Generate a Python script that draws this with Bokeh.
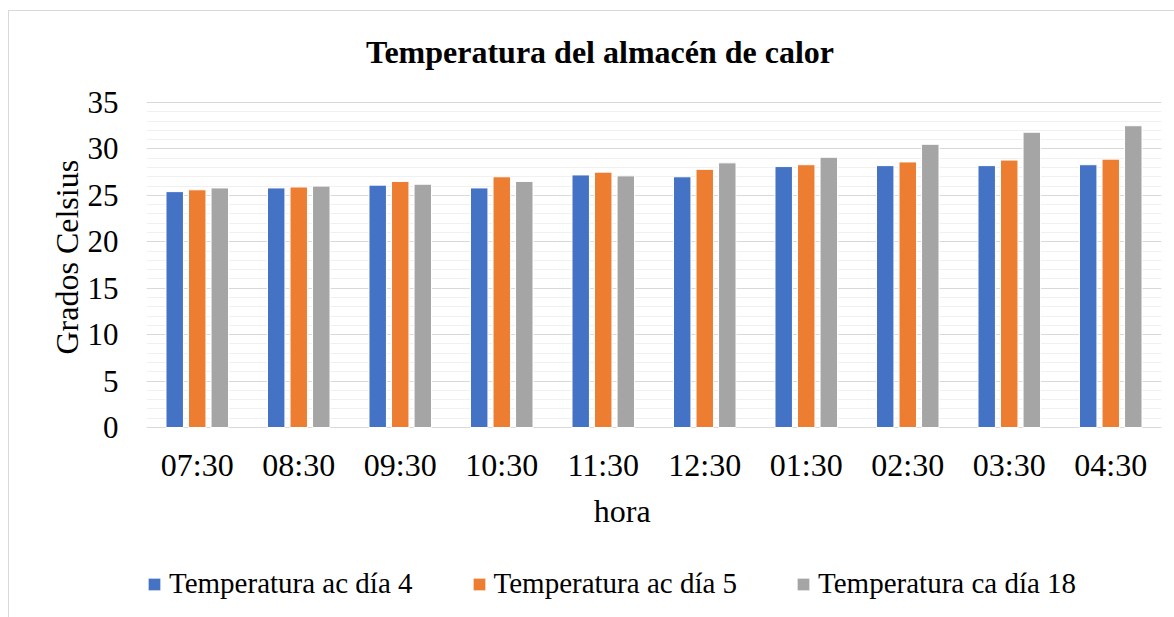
from bokeh.plotting import figure
from bokeh.models import (ColumnDataSource, FactorRange, Range1d, Legend, LegendItem, Title,
                          FixedTicker, Label, LabelSet, Grid)
from bokeh.core.properties import value
from bokeh.transform import dodge
from bokeh.embed import file_html
from bokeh.resources import INLINE

horas = ["07:30", "08:30", "09:30", "10:30", "11:30", "12:30", "01:30", "02:30", "03:30", "04:30"]
dia4 = [25.4, 25.8, 26.1, 25.8, 27.2, 27.0, 28.1, 28.2, 28.2, 28.3]
dia5 = [25.6, 25.9, 26.5, 27.0, 27.5, 27.8, 28.3, 28.6, 28.8, 28.9]
dia18 = [25.8, 26.0, 26.2, 26.5, 27.1, 28.5, 29.1, 30.5, 31.8, 32.5]
series_names = ["Temperatura ac día 4", "Temperatura ac día 5", "Temperatura ca día 18"]
y_ticks = [0, 5, 10, 15, 20, 25, 30, 35]
y_minor = list(range(0, 36))
colors = ["#4472C4", "#ED7D31", "#A5A5A5"]

FONT = "Liberation Serif"

src = ColumnDataSource(data=dict(hora=horas, d4=dia4, d5=dia5, d18=dia18))

# frame spans title..legend area; value axis 0..35 occupies the middle band
p = figure(frame_width=1015, frame_height=580, x_range=FactorRange(*horas, range_padding=0),
           y_range=Range1d(-18.63, 43.83), output_backend="svg", toolbar_location=None,
           x_axis_location=None,
           min_border_left=137, min_border_right=13, min_border_top=9, min_border_bottom=17)
p.margin = (10, 0, 0, 8)
p.styles = {"border-left": "1px solid #d9d9d9", "border-top": "1px solid #d9d9d9"}
p.outline_line_color = None
p.background_fill_color = "white"
p.border_fill_color = "white"

for g in p.select({"type": Grid}):
    if g.dimension == 0:
        g.visible = False
        g.grid_line_color = None

renderers = []
for col, off, c in zip(["d4", "d5", "d18"], [-0.222, 0.0, 0.222], colors):
    r = p.vbar(x=dodge("hora", off, range=p.x_range), top=col, width=0.172, source=src,
               fill_color=c, line_color="white", line_width=1)
    renderers.append(r)

# y axis
p.yaxis.ticker = FixedTicker(ticks=y_ticks, minor_ticks=y_minor)
p.yaxis.axis_line_color = None
p.yaxis.major_tick_line_color = None
p.yaxis.minor_tick_line_color = None
p.yaxis.major_tick_out = 0
p.yaxis.major_tick_in = 0
p.yaxis.minor_tick_out = 0
p.yaxis.minor_tick_in = 0
p.yaxis.major_label_standoff = 28
p.yaxis.major_label_text_font = FONT
p.yaxis.major_label_text_font_size = "31px"
p.yaxis.major_label_text_color = "black"

p.ygrid.grid_line_color = "#d9d9d9"
p.ygrid.grid_line_width = 1
p.ygrid.minor_grid_line_color = "#f0f0f0"
p.ygrid.minor_grid_line_width = 1

# y axis title, left side
ytitle = Title(text="Grados Celsius", align="left", offset=246, standoff=0,
               text_font=FONT, text_font_size="32px", text_font_style="normal",
               text_color="black")
p.add_layout(ytitle, "left")

# category labels under the zero line
p.add_layout(LabelSet(x="hora", y=0, y_offset=-48, text="hora", source=src,
                      text_font=value(FONT), text_font_size="32px", text_align="center",
                      text_baseline="alphabetic", text_color="black"))

# chart title and x-axis title
p.add_layout(Label(x=453.5, y=549, x_units="screen", y_units="screen",
                   text="Temperatura del almacén de calor", text_font=FONT,
                   text_font_size="32px", text_font_style="bold", text_align="center",
                   text_baseline="alphabetic", text_color="black"))
p.add_layout(Label(x=475.7, y=90, x_units="screen", y_units="screen", text="hora",
                   text_font=FONT, text_font_size="32px", text_align="center",
                   text_baseline="alphabetic", text_color="black"))

legend = Legend(items=[LegendItem(label=n, renderers=[r]) for n, r in zip(series_names, renderers)],
                orientation="horizontal", location=(0, 0), padding=0, margin=0, spacing=58,
                glyph_width=16, glyph_height=16, label_standoff=7,
                label_text_font=FONT, label_text_font_size="29px", label_text_color="black",
                border_line_alpha=0, background_fill_alpha=0)
p.add_layout(legend)

open("out.html", "w").write(file_html(p, INLINE))
